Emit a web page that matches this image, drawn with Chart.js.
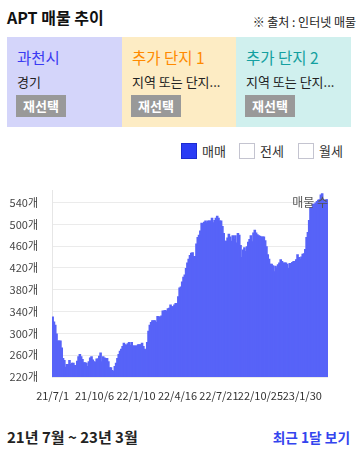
<!DOCTYPE html>
<html><head><meta charset="utf-8">
<script src="https://cdn.jsdelivr.net/npm/chart.js@4.4.1/dist/chart.umd.min.js"></script>
<style>
html,body{margin:0;padding:0;background:#fff;width:360px;height:450px;overflow:hidden;font-family:"Noto Sans CJK KR","Noto Sans",sans-serif;color:#222;}
.abs{position:absolute;white-space:nowrap;}
.title{left:7px;top:6px;font-size:16px;font-weight:bold;line-height:22px;color:#111;}
.src{right:4px;top:13px;font-size:12px;line-height:18px;color:#222;}
.box{position:absolute;top:37px;height:90px;}
.box .name{position:absolute;left:10px;top:10px;font-size:15.5px;line-height:20px;}
.box .sub{position:absolute;left:10px;top:36px;font-size:13px;line-height:18px;color:#222;}
.box .btn{position:absolute;left:9px;top:58px;width:50px;height:22px;background:#999;color:#fff;font-size:13px;font-weight:bold;line-height:22px;text-align:center;}
.chk{position:absolute;top:143px;width:14px;height:14px;border:1.5px solid #c4c4d0;background:#fff;}
.chk.on{background:#2a3cf5;border-color:#1c2bd0;}
.lbl{position:absolute;top:141px;font-size:13px;line-height:20px;color:#333;}
#wrap{position:absolute;left:0;top:170px;width:360px;height:240px;}
.period{left:7px;top:427px;font-size:15px;font-weight:bold;line-height:20px;color:#222;}
.recent{right:10px;top:427px;font-size:13.7px;font-weight:bold;line-height:20px;color:#3344ee;}
</style></head><body>
<div class="abs title">APT 매물 추이</div>
<div class="abs src">※ 출처 : 인터넷 매물</div>

<div class="box" style="left:7px;width:115px;background:#d4d5fa;">
  <div class="name" style="color:#3b3bf2;">과천시</div>
  <div class="sub">경기</div>
  <div class="btn">재선택</div>
</div>
<div class="box" style="left:122px;width:114px;background:#fdecc4;">
  <div class="name" style="color:#ff8a00;">추가 단지 1</div>
  <div class="sub">지역 또는 단지...</div>
  <div class="btn">재선택</div>
</div>
<div class="box" style="left:236px;width:115px;background:#d0f0ee;">
  <div class="name" style="color:#14a0a0;">추가 단지 2</div>
  <div class="sub">지역 또는 단지...</div>
  <div class="btn">재선택</div>
</div>

<div class="chk on" style="left:181px;"></div><div class="lbl" style="left:202px;">매매</div>
<div class="chk" style="left:239px;"></div><div class="lbl" style="left:260px;">전세</div>
<div class="chk" style="left:298px;"></div><div class="lbl" style="left:319px;">월세</div>

<div id="wrap"><canvas id="c"></canvas></div>

<div class="abs period">21년 7월 ~ 23년 3월</div>
<div class="abs recent">최근 1달 보기</div>

<script>
// ---- data ----
const seriesLabel = '매매';
const cornerLabel = '매물 수';
const stepDays = 3; // one value every 3 days starting 2021-07-01
const listingCounts = [
331,322,316,300,287,287,287,274,255,251,239,244,244,251,244,246,246,242,242,250,
258,262,258,253,247,247,246,240,249,256,258,252,249,248,254,254,259,265,249,258,
256,255,255,249,238,238,233,231,240,246,255,262,268,272,277,283,280,279,282,284,
279,284,278,278,278,278,280,280,280,283,277,272,270,284,305,316,321,324,324,324,
321,332,331,331,333,342,342,343,341,346,347,353,350,350,353,356,356,368,384,386,
395,404,408,420,430,437,444,448,449,442,442,465,477,481,489,503,501,505,507,504,
507,507,507,512,504,508,512,516,512,507,507,497,484,470,470,476,483,478,470,480,
473,480,467,484,481,462,440,454,458,451,460,468,473,480,469,485,490,485,482,480,
479,478,478,478,471,460,445,437,428,428,425,414,424,421,427,430,436,433,430,430,
430,428,420,429,429,431,433,432,436,445,440,437,441,446,447,455,477,486,508,532,
531,538,538,540,543,545,546,555,557,545,542,546,546
];
const xTickDays = [0, 97, 193, 289, 385, 481, 578];
const xTickLabels = ['21/7/1','21/10/6','22/1/10','22/4/16','22/7/21','22/10/25','23/1/30'];
const yTicks = [220, 260, 300, 340, 380, 420, 460, 500, 540];
const yUnit = '개';

const points = listingCounts.map((v, i) => ({ x: i * stepDays, y: v }));

const cornerPlugin = {
  id: 'cornerLabel',
  afterDatasetsDraw(chart) {
    const { ctx, chartArea } = chart;
    ctx.save();
    ctx.font = '12px "Noto Sans CJK KR"';
    ctx.fillStyle = '#555';
    ctx.textAlign = 'right';
    ctx.textBaseline = 'middle';
    ctx.fillText(cornerLabel, chartArea.right, chartArea.top + 12);
    ctx.restore();
  }
};

new Chart(document.getElementById('c'), {
  type: 'bar',
  data: {
    datasets: [{
      label: seriesLabel,
      data: points,
      backgroundColor: '#5763f8',
      borderWidth: 0,
      inflateAmount: 0,
      barPercentage: 2,
      categoryPercentage: 1
    }]
  },
  options: {
    responsive: true,
    maintainAspectRatio: false,
    animation: false,
    layout: { padding: { top: 10, right: 32, left: 0, bottom: 0 } },
    plugins: { legend: { display: false }, tooltip: { enabled: false } },
    scales: {
      x: {
        type: 'linear',
        offset: false,
        min: -1.5,
        max: 637.5,
        grid: { display: false, drawTicks: false },
        border: { display: false },
        afterBuildTicks(scale) { scale.ticks = xTickDays.map(v => ({ value: v })); },
        afterFit(scale) { scale.height = 33; },
        ticks: {
          autoSkip: false,
          maxRotation: 0,
          padding: 12,
          color: '#333',
          font: { family: '"Noto Sans CJK KR"', size: 11 },
          callback(v) { const k = xTickDays.indexOf(v); return k >= 0 ? xTickLabels[k] : ''; }
        }
      },
      y: {
        min: 220,
        max: 562,
        grid: { color: '#ebebeb', lineWidth: 1, drawTicks: false },
        border: { display: true, color: '#e6e6e6' },
        afterBuildTicks(scale) { scale.ticks = yTicks.map(v => ({ value: v })); },
        afterFit(scale) { scale.width = 52; },
        ticks: {
          padding: 14,
          color: '#444',
          font: { family: '"Noto Sans CJK KR"', size: 11 },
          callback(v) { return v + yUnit; }
        }
      }
    }
  },
  plugins: [cornerPlugin]
});
</script>
</body></html>
